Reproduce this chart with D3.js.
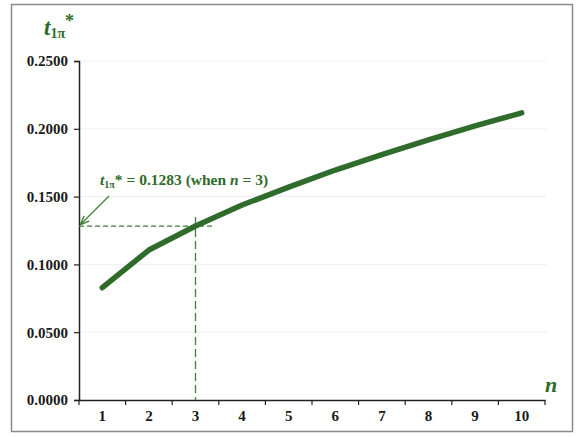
<!DOCTYPE html>
<html><head><meta charset="utf-8">
<script src="https://cdn.jsdelivr.net/npm/d3@7"></script>
<style>body{margin:0;background:#fff}svg{display:block}</style>
</head><body>
<script>
const categories = ["1","2","3","4","5","6","7","8","9","10"];
const values = [0.0828, 0.1106, 0.1283, 0.1438, 0.1570, 0.1696, 0.1810, 0.1918, 0.2021, 0.2117];
const yTicks = [0, 0.05, 0.10, 0.15, 0.20, 0.25];
const highlightIndex = 2;

(function () {
const W = 577, H = 437;
const green = "#2f6b2a";
const dashGreen = "#3d7f35";
const svg = d3.select("body").append("svg").attr("width", W).attr("height", H);
svg.append("rect").attr("x", 11.5).attr("y", 4.5).attr("width", 561).attr("height", 427)
  .attr("fill", "#fff").attr("stroke", "#8a8a8a").attr("stroke-width", 1.5);

const mLeft = 79, mRight = 545, mTop = 61, mBottom = 400;
const x = d3.scaleBand().domain(categories).range([mLeft, mRight]);
const y = d3.scaleLinear().domain([0, 0.25]).range([mBottom, mTop]);
const font = "'Liberation Serif','Times New Roman',serif";

// gridlines
svg.append("g").selectAll("line").data(yTicks.slice(1)).join("line")
  .attr("x1", mLeft).attr("x2", mRight + 2).attr("y1", d => y(d)).attr("y2", d => y(d))
  .attr("stroke", "#f0f0f0").attr("stroke-width", 1);

// y axis
const ya = svg.append("g").attr("transform", `translate(${mLeft},0)`)
  .call(d3.axisLeft(y).tickValues(yTicks).tickFormat(d3.format(".4f")).tickSize(5).tickPadding(6));
ya.select(".domain").attr("stroke", "#222").attr("stroke-width", 1.5);
ya.selectAll(".tick line").attr("stroke", "#222").attr("stroke-width", 1.2);
ya.selectAll("text").style("font-family", font).style("font-weight", "bold").style("font-size", "15px").attr("fill", "#1a1a1a");

// x axis
const xa = svg.append("g").attr("transform", `translate(0,${mBottom})`)
  .call(d3.axisBottom(x).tickSize(0).tickPadding(10));
xa.select(".domain").attr("stroke", "#222").attr("stroke-width", 1.5);
xa.selectAll("text").style("font-family", font).style("font-weight", "bold").style("font-size", "15px").attr("fill", "#1a1a1a");
const bounds = categories.map(c => x(c)).concat([x(categories[categories.length-1]) + x.bandwidth()]);
svg.append("g").selectAll("line").data(bounds).join("line")
  .attr("x1", d => d).attr("x2", d => d).attr("y1", mBottom).attr("y2", mBottom + 5)
  .attr("stroke", "#222").attr("stroke-width", 1.2);

const cx = (c) => x(c) + x.bandwidth() / 2;

// dashed guides
const hx = cx(categories[highlightIndex]), hy = y(values[highlightIndex]);
svg.append("line").attr("x1", mLeft).attr("x2", hx + 17).attr("y1", hy).attr("y2", hy)
  .attr("stroke", dashGreen).attr("stroke-width", 1.3).attr("stroke-dasharray", "5,3");
svg.append("line").attr("x1", hx).attr("x2", hx).attr("y1", hy - 9).attr("y2", mBottom)
  .attr("stroke", dashGreen).attr("stroke-width", 1.3).attr("stroke-dasharray", "8,4");

// line
svg.append("path").datum(values)
  .attr("d", d3.line().x((d, i) => cx(categories[i])).y(d => y(d)))
  .attr("fill", "none").attr("stroke", green).attr("stroke-width", 5.5)
  .attr("stroke-linecap", "round").attr("stroke-linejoin", "round");

// arrow
svg.append("defs").append("marker").attr("id", "ah").attr("viewBox", "0 0 10 10")
  .attr("refX", 9).attr("refY", 5).attr("markerWidth", 7).attr("markerHeight", 7)
  .attr("orient", "auto-start-reverse")
  .append("path").attr("d", "M0,1 L10,5 L0,9").attr("fill", "none").attr("stroke", dashGreen).attr("stroke-width", 1.5);
svg.append("line").attr("x1", 109).attr("y1", 196).attr("x2", mLeft + 2).attr("y2", hy - 2)
  .attr("stroke", dashGreen).attr("stroke-width", 1.3).attr("marker-end", "url(#ah)");

// annotation text
const ann = svg.append("text").attr("x", 100).attr("y", 185).attr("font-family", font)
  .attr("font-weight", "bold").attr("font-size", 15.5).attr("fill", green);
ann.append("tspan").attr("font-style", "italic").text("t");
ann.append("tspan").attr("font-size", 10).attr("dy", 3).text("1π");
ann.append("tspan").attr("dy", -3).text("* = 0.1283 (when ");
ann.append("tspan").attr("font-style", "italic").text("n");
ann.append("tspan").text(" = 3)");

// y title
const yt = svg.append("text").attr("x", 44).attr("y", 35).attr("font-family", font)
  .attr("font-weight", "bold").attr("fill", green).attr("font-size", 23);
yt.append("tspan").attr("font-style", "italic").text("t");
yt.append("tspan").attr("font-size", 14).attr("dy", 3).text("1π");
yt.append("tspan").attr("dy", -11).attr("font-size", 18).text("*");

// x title
svg.append("text").attr("x", 551).attr("y", 392).attr("font-family", font)
  .attr("font-weight", "bold").attr("font-style", "italic").attr("font-size", 22)
  .attr("fill", green).attr("text-anchor", "middle").text("n");
})();
</script>
</body></html>
